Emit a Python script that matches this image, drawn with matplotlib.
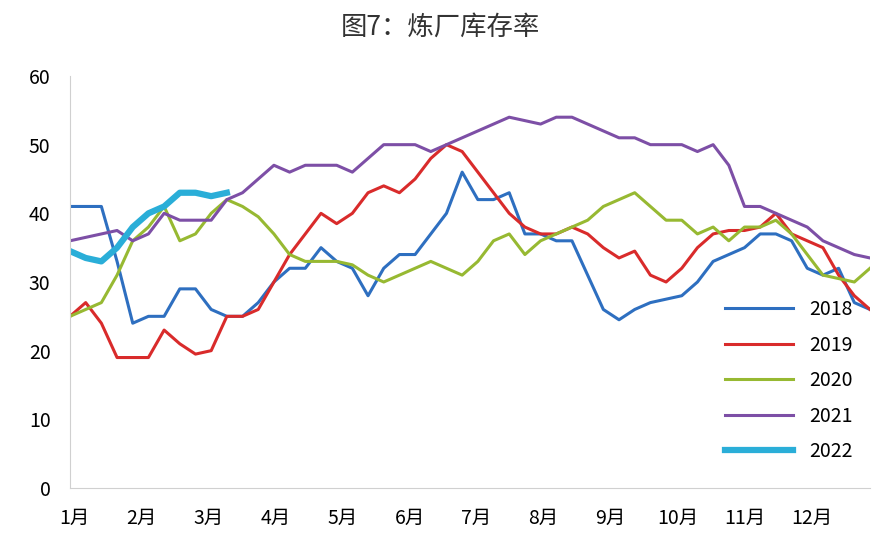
import matplotlib
matplotlib.use("Agg")
import matplotlib.pyplot as plt
import numpy as np

plt.rcParams['font.family'] = ['Noto Sans CJK SC', 'DejaVu Sans']

months = ["1月","2月","3月","4月","5月","6月","7月","8月","9月","10月","11月","12月"]
s2018 = [41,41,41,33,24,25,25,29,29,26,25,25,27,30,32,32,35,33,32,28,32,34,34,37,40,46,42,42,43,37,37,36,36,31,26,24.5,26,27,27.5,28,30,33,34,35,37,37,36,32,31,32,27,26]
s2019 = [25,27,24,19,19,19,23,21,19.5,20,25,25,26,30,34,37,40,38.5,40,43,44,43,45,48,50,49,46,43,40,38,37,37,38,37,35,33.5,34.5,31,30,32,35,37,37.5,37.5,38,40,37,36,35,31,28,26]
s2020 = [25,26,27,31,36,38,41,36,37,40,42,41,39.5,37,34,33,33,33,32.5,31,30,31,32,33,32,31,33,36,37,34,36,37,38,39,41,42,43,41,39,39,37,38,36,38,38,39,37,34,31,30.5,30,32]
s2021 = [36,36.5,37,37.5,36,37,40,39,39,39,42,43,45,47,46,47,47,47,46,48,50,50,50,49,50,51,52,53,54,53.5,53,54,54,53,52,51,51,50,50,50,49,50,47,41,41,40,39,38,36,35,34,33.5]
s2022 = [34.5,33.5,33,35,38,40,41,43,43,42.5,43]

fig = plt.figure(figsize=(8.8, 5.44), dpi=100)
ax = fig.add_axes([70/880, 56/544, 800/880, 412/544])
series = [("2018", s2018, "#2e6fc0", 2.2), ("2019", s2019, "#d92b2b", 2.2),
          ("2020", s2020, "#97b932", 2.2), ("2021", s2021, "#7d4fa6", 2.2),
          ("2022", s2022, "#2aaed8", 4.5)]
for name, vals, c, lw in series:
    ax.plot(np.arange(len(vals)), vals, color=c, lw=lw, label=name)

ax.set_xlim(0, 51)
ax.set_ylim(0, 60)
ax.set_yticks(range(0, 61, 10))
ax.set_xticks([0.3 + 4.27 * i for i in range(12)])
ax.set_xticklabels(months)
ax.tick_params(length=0, labelsize=14, pad=14)
for s in ["top", "right"]:
    ax.spines[s].set_visible(False)
ax.spines["bottom"].set_color("#d0d0d0")
ax.spines["left"].set_color("#d0d0d0")
ax.legend(loc="lower right", frameon=False, fontsize=14, handlelength=3.5,
          labelspacing=0.75, bbox_to_anchor=(1.0, 0.02))
fig.text(0.5, 0.95, "图7：炼厂库存率", ha="center", va="center", fontsize=19, color="#333333")
fig.savefig("out.png", dpi=100)
